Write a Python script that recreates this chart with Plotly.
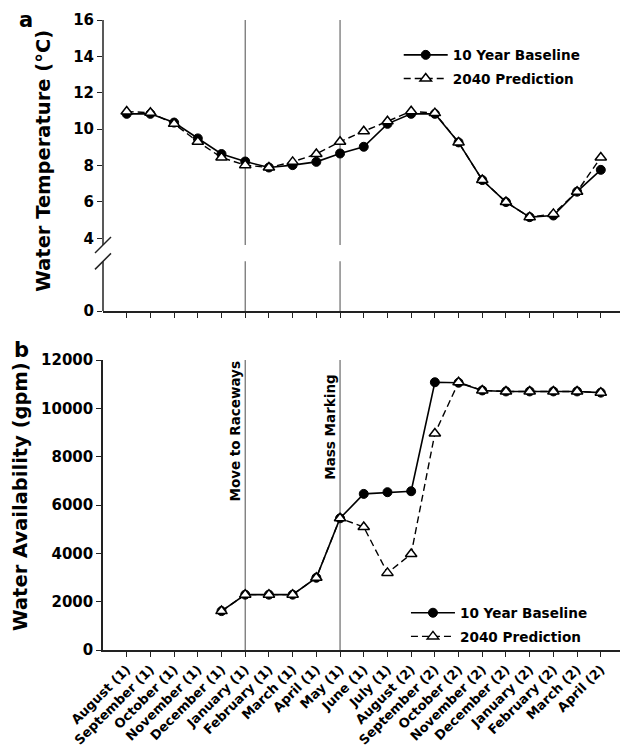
import plotly.graph_objects as go

# ---------------- data ----------------
CATEGORIES = ["August (1)", "September (1)", "October (1)", "November (1)", "December (1)",
              "January (1)", "February (1)", "March (1)", "April (1)", "May (1)", "June (1)",
              "July (1)", "August (2)", "September (2)", "October (2)", "November (2)",
              "December (2)", "January (2)", "February (2)", "March (2)", "April (2)"]

TEMP_BASELINE = [10.84, 10.84, 10.36, 9.49, 8.63, 8.22, 7.89, 8.02, 8.2, 8.66, 9.03,
                 10.29, 10.84, 10.84, 9.27, 7.2, 5.99, 5.16, 5.25, 6.56, 7.76]
TEMP_2040 = [10.97, 10.9, 10.29, 9.31, 8.44, 8.02, 7.89, 8.2, 8.63, 9.31, 9.88,
             10.43, 10.98, 10.88, 9.27, 7.2, 5.99, 5.16, 5.34, 6.56, 8.44]

FLOW_BASELINE = [None, None, None, None, 1610, 2290, 2290, 2290, 2990, 5450, 6460,
                 6530, 6570, 11080, 11060, 10740, 10700, 10700, 10700, 10700, 10650]
FLOW_2040 = [None, None, None, None, 1610, 2290, 2290, 2290, 2990, 5450, 5090,
             3190, 3970, 8960, 11080, 10740, 10700, 10700, 10700, 10700, 10650]

TEMP_TICKS = [0, 4, 6, 8, 10, 12, 14, 16]
FLOW_TICKS = [0, 2000, 4000, 6000, 8000, 10000, 12000]

EVENTS = ["January (1)", "May (1)"]
EVENT_LABELS = ["Move to Raceways", "Mass Marking"]
EVENT_LABEL_Y = [9050, 9200]

SERIES_NAMES = ["10 Year Baseline", "2040 Prediction"]

# axis break (top panel), in data units
BREAK_LOW, BREAK_HIGH = 2.73, 3.63

FONT = "DejaVu Sans"
AX = "#222222"
EV = "#6a6a6a"

fig = go.Figure()

def add_pair(xa, ya, base, pred, legend):
    fig.add_trace(go.Scatter(
        x=CATEGORIES, y=base, name=SERIES_NAMES[0], mode="lines+markers",
        xaxis=xa, yaxis=ya, legend=legend, legendgroup=legend + "a",
        line=dict(color="black", width=1.6),
        marker=dict(symbol="circle", size=9, color="black", line=dict(color="black", width=1)),
    ))
    fig.add_trace(go.Scatter(
        x=CATEGORIES, y=pred, name=SERIES_NAMES[1], mode="lines+markers",
        xaxis=xa, yaxis=ya, legend=legend, legendgroup=legend + "b",
        line=dict(color="black", width=1.4, dash="7px,4px"),
        marker=dict(symbol="triangle-up", size=10, color="white", line=dict(color="black", width=1.5)),
    ))

add_pair("x", "y", TEMP_BASELINE, TEMP_2040, "legend")
add_pair("x2", "y2", FLOW_BASELINE, FLOW_2040, "legend2")

shapes = []
# broken y axis line for top panel
for y0, y1 in [(0, BREAK_LOW), (BREAK_HIGH, TEMP_TICKS[-1])]:
    shapes.append(dict(type="line", xref="x domain", yref="y", x0=0, x1=0, y0=y0, y1=y1,
                       line=dict(color=AX, width=1.5)))
for yb in [BREAK_LOW, BREAK_HIGH]:
    shapes.append(dict(type="line", xref="x domain", yref="y", xsizemode="pixel", ysizemode="pixel",
                       xanchor=0, yanchor=yb, x0=-8, x1=8, y0=-8, y1=8,
                       line=dict(color=AX, width=1.5)))
# event lines
for ev in EVENTS:
    xi = CATEGORIES.index(ev)
    for y0, y1 in [(0, BREAK_LOW), (BREAK_HIGH, TEMP_TICKS[-1])]:
        shapes.append(dict(type="line", xref="x", yref="y", x0=xi, x1=xi, y0=y0, y1=y1,
                           line=dict(color=EV, width=1.2), layer="below"))
    shapes.append(dict(type="line", xref="x2", yref="y2", x0=xi, x1=xi, y0=0, y1=FLOW_TICKS[-1],
                       line=dict(color=EV, width=1.2), layer="below"))

annotations = []
for ev, lab, yv in zip(EVENTS, EVENT_LABELS, EVENT_LABEL_Y):
    annotations.append(dict(x=ev, y=yv, xref="x2", yref="y2", text=lab, textangle=-90,
                            showarrow=False, xanchor="right", yanchor="middle", xshift=0,
                            font=dict(family=FONT, size=13.5, color="black", weight="bold")))
# axis titles
annotations.append(dict(x=-0.115, y=0.776, xref="paper", yref="paper", text="Water Temperature (°C)",
                        textangle=-90, showarrow=False, xanchor="center", yanchor="middle",
                        font=dict(family=FONT, size=19.5, color="black", weight="bold")))
annotations.append(dict(x=-0.16, y=0.2435, xref="paper", yref="paper", text="Water Availability (gpm)",
                        textangle=-90, showarrow=False, xanchor="center", yanchor="middle",
                        font=dict(family=FONT, size=19.5, color="black", weight="bold")))
# panel letters
annotations.append(dict(x=-0.148, y=1.0, xref="paper", yref="paper", text="a", showarrow=False,
                        xanchor="center", yanchor="middle",
                        font=dict(family=FONT, size=21, color="black", weight="bold")))
annotations.append(dict(x=-0.158, y=0.4765, xref="paper", yref="paper", text="b", showarrow=False,
                        xanchor="center", yanchor="middle",
                        font=dict(family=FONT, size=21, color="black", weight="bold")))

xcommon = dict(type="category", categoryarray=CATEGORIES, range=[-1, 20.81],
               showline=True, linecolor=AX, linewidth=1.5, ticks="outside", ticklen=5,
               tickwidth=1.2, tickcolor=AX, showgrid=False, zeroline=False, fixedrange=True)

legend_common = dict(xanchor="left", yanchor="top", bgcolor="rgba(0,0,0,0)",
                     font=dict(family=FONT, size=13.6, color="black", weight="bold"),
                     itemwidth=44, tracegroupgap=3, traceorder="grouped")

fig.update_layout(
    width=620, height=748,
    margin=dict(l=103, r=0, t=20, b=93),
    paper_bgcolor="white", plot_bgcolor="white",
    font=dict(family=FONT, color="black"),
    xaxis=dict(**xcommon, anchor="y", domain=[0, 1], showticklabels=False),
    yaxis=dict(domain=[0.5381, 1], range=[0, 16], tickvals=TEMP_TICKS, ticks="outside",
               ticklen=5, tickwidth=1.2, tickcolor=AX, showline=False, showgrid=False,
               zeroline=False, tickfont=dict(family=FONT, size=15, color="black", weight="bold")),
    xaxis2=dict(**xcommon, anchor="y2", domain=[0, 1], tickangle=-45,
                tickfont=dict(family=FONT, size=13, color="black", weight="bold")),
    yaxis2=dict(domain=[0, 0.4603], range=[0, 12000], tickvals=FLOW_TICKS, tickformat="d",
                ticks="outside", ticklen=5, tickwidth=1.2, tickcolor=AX, showline=True,
                linecolor=AX, linewidth=1.5, showgrid=False, zeroline=False,
                tickfont=dict(family=FONT, size=15, color="black", weight="bold")),
    legend=dict(**legend_common, x=0.572, y=0.969),
    legend2=dict(**legend_common, x=0.586, y=0.0835),
    shapes=shapes,
    annotations=annotations,
    showlegend=True,
)

fig.write_html("out.html")
